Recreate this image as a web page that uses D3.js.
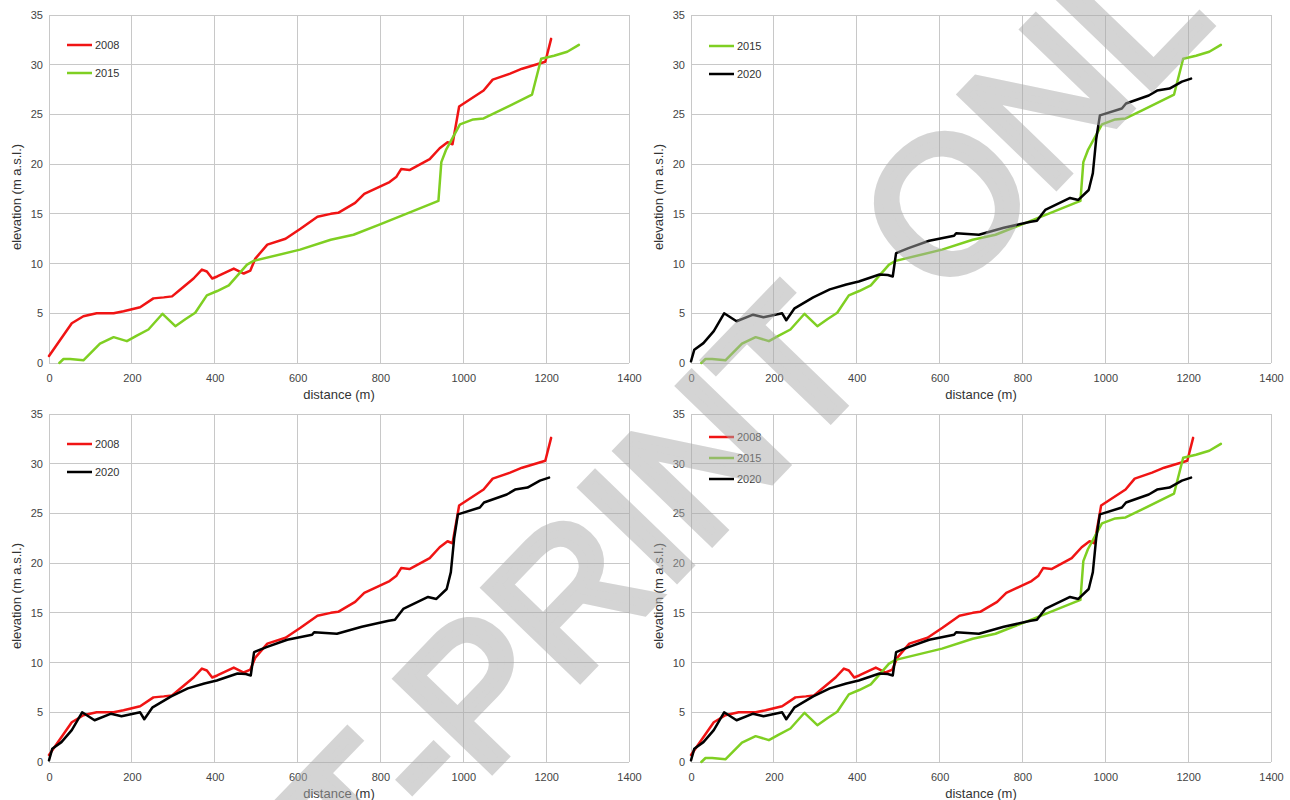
<!DOCTYPE html>
<html><head><meta charset="utf-8">
<script src="https://cdn.jsdelivr.net/npm/d3@7"></script>
<style>
body{margin:0;background:#fff;}
text{font-family:"Liberation Sans",Arial,sans-serif;}
</style>
</head><body>
<svg id="c" width="1290" height="800"></svg>
<script>
// ---------- data ----------
const distance2008 = [0,55,83,115,156,180,220,252,277,297,317,349,369,381,394,406,446,470,486,498,527,571,607,648,680,698,739,761,822,838,850,870,919,943,962,974,990,1049,1071,1113,1142,1198,1212];
const elevation2008 = [0.7,4.0,4.7,5.0,5.0,5.2,5.6,6.5,6.6,6.7,7.4,8.5,9.4,9.2,8.5,8.7,9.5,9.0,9.3,10.5,11.9,12.5,13.5,14.7,15.0,15.1,16.1,17.0,18.2,18.7,19.5,19.4,20.5,21.6,22.2,22.0,25.8,27.4,28.5,29.1,29.6,30.3,32.6];

const distance2015 = [25,35,51,83,123,156,188,212,240,274,305,329,353,381,406,434,478,494,606,680,735,799,940,947,958,992,1024,1049,1089,1166,1188,1219,1251,1279];
const elevation2015 = [0.0,0.4,0.4,0.27,1.95,2.6,2.2,2.76,3.37,4.95,3.7,4.4,5.05,6.8,7.24,7.8,9.9,10.27,11.4,12.4,12.9,13.95,16.3,20.2,21.4,24.0,24.5,24.6,25.4,27.0,30.6,30.9,31.3,32.0];

const distance2020 = [0,8,30,55,80,110,150,175,220,230,250,295,335,375,405,455,475,487,495,525,575,635,640,695,755,820,835,855,915,935,960,970,978,987,1040,1050,1105,1125,1155,1185,1207];
const elevation2020 = [0.17,1.34,2.0,3.2,5.0,4.2,4.86,4.6,5.0,4.3,5.5,6.6,7.4,7.9,8.2,8.9,8.85,8.7,11.05,11.55,12.3,12.8,13.05,12.9,13.6,14.2,14.3,15.4,16.6,16.4,17.4,19.1,22.5,24.9,25.6,26.1,26.9,27.4,27.6,28.3,28.6];

const xTickValues = [0,200,400,600,800,1000,1200,1400];
const yTickValues = [0,5,10,15,20,25,30,35];
const seriesNames = ["2008","2015","2020"];
const panelSeries = [["2008","2015"],["2015","2020"],["2008","2020"],["2008","2015","2020"]];
const xTitle = "distance (m)";
const yTitle = "elevation (m a.s.l.)";
const watermarkWords = ["T-PRINT", "ONL"];

// ---------- build ----------
const seriesData = {
  "2008": distance2008.map((d,i)=>({d, e: elevation2008[i]})),
  "2015": distance2015.map((d,i)=>({d, e: elevation2015[i]})),
  "2020": distance2020.map((d,i)=>({d, e: elevation2020[i]}))
};
const seriesColor = {"2008":"#f01414","2015":"#7fcf22","2020":"#000000"};

const layouts = [
  {x0:49, x1:629, y0:15, y1:363, legY:45, legStep:28},
  {x0:691,x1:1271,y0:15, y1:363, legY:46, legStep:28},
  {x0:49, x1:629, y0:414,y1:762, legY:444,legStep:28},
  {x0:691,x1:1271,y0:414,y1:762, legY:437,legStep:21}
];

const svg = d3.select("#c");
const gridColor = "#c8c8c8";

layouts.forEach((L, pi) => {
  const x = d3.scaleLinear().domain([0,1400]).range([L.x0, L.x1]);
  const y = d3.scaleLinear().domain([0,35]).range([L.y1, L.y0]);
  const g = svg.append("g");

  // grid
  g.selectAll(".vg").data(xTickValues).join("line")
    .attr("x1", d=>x(d)).attr("x2", d=>x(d)).attr("y1", L.y0).attr("y2", L.y1)
    .attr("stroke", gridColor).attr("stroke-width", 1).attr("shape-rendering","crispEdges");
  g.selectAll(".hg").data(yTickValues).join("line")
    .attr("x1", L.x0).attr("x2", L.x1).attr("y1", d=>y(d)).attr("y2", d=>y(d))
    .attr("stroke", gridColor).attr("stroke-width", 1).attr("shape-rendering","crispEdges");

  // axes
  const xa = g.append("g").attr("transform", `translate(0,${L.y1})`)
    .call(d3.axisBottom(x).tickValues(xTickValues).tickSize(0).tickPadding(11).tickFormat(d3.format("d")));
  const ya = g.append("g").attr("transform", `translate(${L.x0},0)`)
    .call(d3.axisLeft(y).tickValues(yTickValues).tickSize(0).tickPadding(6).tickFormat(d3.format("d")));
  [xa, ya].forEach(a => {
    a.select(".domain").remove();
    a.selectAll("text").attr("font-size", 11).attr("fill", "#444")
      .attr("font-family", '"Liberation Sans",Arial,sans-serif');
  });

  // titles
  g.append("text").attr("x", (L.x0+L.x1)/2).attr("y", L.y1+31).attr("dy","0.35em")
    .attr("text-anchor","middle").attr("font-size",13).attr("fill","#333").text(xTitle);
  g.append("text").attr("transform", `translate(${L.x0-33},${(L.y0+L.y1)/2+8}) rotate(-90)`)
    .attr("dy","0.35em").attr("text-anchor","middle").attr("font-size",13).attr("fill","#333").text(yTitle);

  // lines
  const line = d3.line().x(p=>x(p.d)).y(p=>y(p.e));
  panelSeries[pi].forEach(s => {
    g.append("path").datum(seriesData[s]).attr("d", line)
      .attr("fill","none").attr("stroke", seriesColor[s]).attr("stroke-width", 2.5)
      .attr("stroke-linejoin","round").attr("stroke-linecap","round");
  });

  // legend
  panelSeries[pi].forEach((s, i) => {
    const ly = L.legY + i*L.legStep;
    g.append("line").attr("x1", L.x0+18).attr("x2", L.x0+43).attr("y1", ly).attr("y2", ly)
      .attr("stroke", seriesColor[s]).attr("stroke-width", 2.5);
    g.append("text").attr("x", L.x0+46).attr("y", ly).attr("dy","0.35em")
      .attr("font-size", 11).attr("fill","#333").text(s);
  });
});

// watermark
const wm = svg.append("g").attr("opacity",0.5)
  .append("text")
  .attr("transform","translate(364,902) rotate(-46)")
  .attr("font-size",190).attr("fill","#aaaaaa")
  .attr("stroke","#aaaaaa").attr("stroke-width",9).attr("stroke-linejoin","miter")
  .attr("font-family",'"Liberation Sans",Arial,sans-serif');
wm.append("tspan").text(watermarkWords[0]);
wm.append("tspan").attr("dx",98).text(watermarkWords[1]);
</script>
</body></html>
